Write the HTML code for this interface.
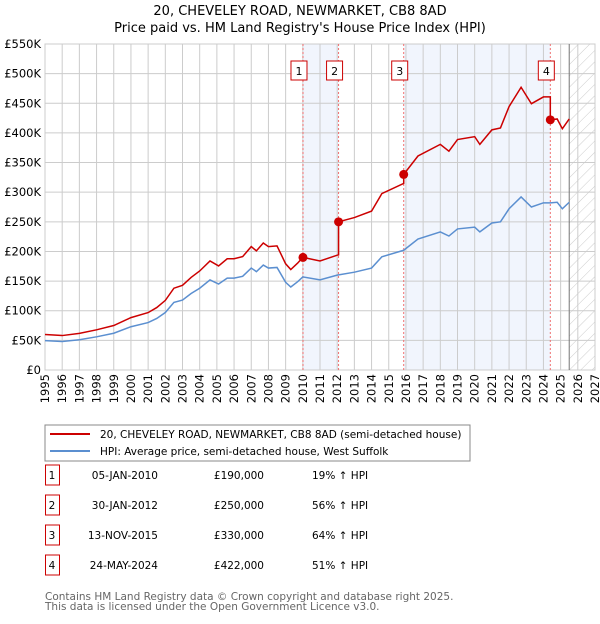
<!DOCTYPE html>
<html><head><meta charset="utf-8"><style>
body{margin:0;background:#fff;font-family:"DejaVu Sans","Liberation Sans",sans-serif;}
svg text{font-family:"DejaVu Sans","Liberation Sans",sans-serif;}
</style></head><body>
<svg id="c" width="600" height="620" xmlns="http://www.w3.org/2000/svg">
<defs><pattern id="hatch" width="8" height="8" patternUnits="userSpaceOnUse" patternTransform="rotate(45)"><line x1="0" y1="0" x2="0" y2="8" stroke="#ccc" stroke-width="1"/></pattern></defs>
<text x="300" y="15" text-anchor="middle" font-size="13">20, CHEVELEY ROAD, NEWMARKET, CB8 8AD</text>
<text x="300" y="32" text-anchor="middle" font-size="13">Price paid vs. HM Land Registry's House Price Index (HPI)</text>
<g id="plot"></g>
<rect x="45" y="425" width="425" height="36" fill="#fff" stroke="#888"/>
<line x1="50" y1="434" x2="90" y2="434" stroke="#cc0000" stroke-width="2"/>
<text x="100" y="438" font-size="10.5">20, CHEVELEY ROAD, NEWMARKET, CB8 8AD (semi-detached house)</text>
<line x1="50" y1="451" x2="90" y2="451" stroke="#5b8fd0" stroke-width="2"/>
<text x="100" y="455" font-size="10.5">HPI: Average price, semi-detached house, West Suffolk</text>
<g id="tbl"></g>
<text x="45" y="600" font-size="10.5" fill="#666">Contains HM Land Registry data © Crown copyright and database right 2025.</text>
<text x="45" y="610" font-size="10.5" fill="#666">This data is licensed under the Open Government Licence v3.0.</text>
</svg>
<script>
const hpiYears=[1995,1996,1997,1998,1999,2000,2001,2001.5,2002,2002.5,2003,2003.5,2004,2004.6,2005.1,2005.6,2006,2006.5,2007,2007.3,2007.7,2008,2008.5,2009,2009.3,2009.7,2010,2011,2012,2013,2014,2014.6,2015.87,2016.7,2018,2018.5,2019,2020,2020.3,2021,2021.5,2022,2022.7,2023.3,2024,2024.4,2024.8,2025.1,2025.5];
const hpiValues=[49.5,48,51,56,62,73,80,87,97,114,118,129,138,152,145,155,155,158,172,166,177,172,173,148,140,149,157,152,160,165,172,191,202,221,233,226,238,241,233,248,250,272,292,275,282,282,283,272,283];
const saleDates=[2010.01,2012.08,2015.87,2024.4];
const salePrices=[190,250,330,422];
const saleLabels=["1","2","3","4"];
const saleDateText=["05-JAN-2010","30-JAN-2012","13-NOV-2015","24-MAY-2024"];
const salePriceText=["£190,000","£250,000","£330,000","£422,000"];
const saleDeltaText=["19% ↑ HPI","56% ↑ HPI","64% ↑ HPI","51% ↑ HPI"];
const yTicks=[0,50,100,150,200,250,300,350,400,450,500,550];
const yTickLabels=["£0","£50K","£100K","£150K","£200K","£250K","£300K","£350K","£400K","£450K","£500K","£550K"];
const xTicks=[1995,1996,1997,1998,1999,2000,2001,2002,2003,2004,2005,2006,2007,2008,2009,2010,2011,2012,2013,2014,2015,2016,2017,2018,2019,2020,2021,2022,2023,2024,2025,2026,2027];

const L=45,R=595,T=44,B=370,X0=1995,X1=2027,Y1=550,dataEnd=2025.5;
const sx=v=>L+(v-X0)/(X1-X0)*(R-L);
const sy=v=>B-v/Y1*(B-T);
const NS="http://www.w3.org/2000/svg";
const g=document.getElementById('plot');
function mk(tag,attrs,parent){const e=document.createElementNS(NS,tag);for(const k in attrs)e.setAttribute(k,attrs[k]);(parent||g).appendChild(e);return e;}
function hpiAt(t){for(let i=0;i<hpiYears.length-1;i++){if(t<=hpiYears[i+1]){const f=(t-hpiYears[i])/(hpiYears[i+1]-hpiYears[i]);return hpiValues[i]+f*(hpiValues[i+1]-hpiValues[i]);}}return hpiValues[hpiValues.length-1];}

let bg=mk('rect',{x:L,y:T,width:R-L,height:B-T,fill:'#fff'});

[[0,1],[2,3]].forEach((p,i)=>{const r=mk('rect',{x:sx(saleDates[p[0]]),y:T,width:sx(saleDates[p[1]])-sx(saleDates[p[0]]),height:B-T,fill:'#eef3fc',opacity:0.8});
});
let h=mk('rect',{x:sx(dataEnd),y:T,width:R-sx(dataEnd),height:B-T,fill:'url(#hatch)'});

yTicks.forEach((v,i)=>{const l=mk('line',{x1:L,x2:R,y1:sy(v),y2:sy(v),stroke:'#ccc'});

const t=mk('text',{x:L-4,y:sy(v)+4,'text-anchor':'end','font-size':11.5});t.textContent=yTickLabels[i];
});
xTicks.forEach(v=>{const l=mk('line',{x1:sx(v),x2:sx(v),y1:T,y2:B,stroke:'#ccc'});

const t=mk('text',{x:0,y:0,'text-anchor':'end','font-size':11.5,transform:`translate(${sx(v)+4},${B+4}) rotate(-90)`});t.textContent=v;
});
let fr=mk('rect',{x:L,y:T,width:R-L,height:B-T,fill:'none',stroke:'#ccc'});

let el=mk('line',{x1:sx(dataEnd),x2:sx(dataEnd),y1:T,y2:B,stroke:'#777'});

saleDates.forEach(d=>{const l=mk('line',{x1:sx(d),x2:sx(d),y1:T,y2:B,stroke:'#f07070','stroke-dasharray':'2,2'});
});
let hp=mk('polyline',{points:hpiYears.map((y,i)=>sx(y)+','+sy(hpiValues[i])).join(' '),fill:'none',stroke:'#5b8fd0','stroke-width':1.5});

const ratios=saleDates.map((d,i)=>salePrices[i]/hpiAt(d));
function ratioAt(t){let r=ratios[0];saleDates.forEach((d,i)=>{if(t>=d)r=ratios[i];});return r;}
const pts=[];
hpiYears.forEach((y,i)=>{
  saleDates.forEach((d,j)=>{if(j>0 && d>hpiYears[i-1] && d<=y){pts.push([d,hpiAt(d)*ratios[j-1]]);pts.push([d,salePrices[j]]);}
    if(j==0 && i>0 && d>hpiYears[i-1] && d<=y)pts.push([d,salePrices[0]]);});
  pts.push([y,hpiValues[i]*ratioAt(y)]);});
pts.sort((a,b)=>a[0]-b[0]);
let pl=mk('polyline',{points:pts.map(p=>sx(p[0])+','+sy(p[1])).join(' '),fill:'none',stroke:'#cc0000','stroke-width':1.5});

saleDates.forEach((d,i)=>{const c=mk('circle',{cx:sx(d),cy:sy(salePrices[i]),r:4.5,fill:'#cc0000'});

const b=mk('rect',{x:sx(d)-12,y:61,width:16,height:19,fill:'#fff',stroke:'#cc0000'});

const t=mk('text',{x:sx(d)-4,y:75,'text-anchor':'middle','font-size':11});t.textContent=saleLabels[i];
});
const tb=document.getElementById('tbl');
saleLabels.forEach((s,i)=>{const y=473+i*30;
const b=mk('rect',{x:45.5,y:y-8,width:14,height:20,fill:'#fff',stroke:'#cc0000'},tb);

const cols=[[52,s,'middle'],[158,saleDateText[i],'end'],[264,salePriceText[i],'end'],[312,saleDeltaText[i],'start']];
cols.forEach(c=>{const t=mk('text',{x:c[0],y:y+6,'text-anchor':c[2],'font-size':10.5},tb);t.textContent=c[1];
});});
</script>
</body></html>
